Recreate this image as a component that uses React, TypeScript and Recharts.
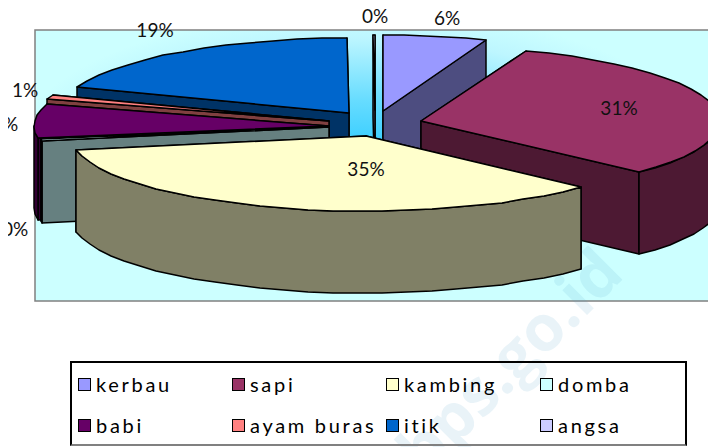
import React from 'react';
import { PieChart, Pie, Legend, Customized } from 'recharts';

const NAMES = ['kerbau', 'sapi', 'kambing', 'domba', 'babi', 'ayam buras', 'itik', 'angsa'];
const VALUES = [5.7, 31.3, 35, 0.4, 7.3, 1, 19.2, 0.1];
const PCT_LABELS = ['6%', '31%', '35%', '0%', '8%', '1%', '19%', '0%'];

const TOP = ['#9999FF', '#993366', '#FFFFCC', '#CCFFFF', '#660066', '#FF8080', '#0066CC', '#CCCCFF'];
const SIDE = ['#4D4D80', '#4D1933', '#808066', '#668080', '#330033', '#804040', '#003366', '#666680'];

// exploded apex of each slice, its radii, and where its label sits
const APEX_X = [383, 421, 366, 329, 329, 329, 349, 375];
const APEX_Y = [111, 121, 136, 127, 126, 121, 113, 110];
const RX = [295, 299, 295, 292, 295, 295, 290, 295];
const RY = [76, 75, 75, 75, 75, 75, 75, 75];
const LABEL_X = [447, 619, 366, 15, 5, 25, 155, 375];
const LABEL_Y = [17, 107, 168, 228, 123, 89, 29, 15];
const DEPTH = 82;

// painter's order, back to front
const DRAW_ORDER = [7, 0, 6, 1, 5, 4, 3, 2];

const table = NAMES.map((name, i) => ({ name, value: VALUES[i] }));

const pt = (i: number, deg: number, drop = 0) => {
  const r = (deg * Math.PI) / 180;
  return [
    Math.round(APEX_X[i] + RX[i] * Math.sin(r)),
    Math.round(APEX_Y[i] - RY[i] * Math.cos(r) + drop),
  ];
};
const poly = (p: number[][]) => 'M' + p.map((q) => q.join(',')).join('L') + 'Z';
const arc = (i: number, a: number, b: number, drop = 0) => {
  const out: number[][] = [];
  const n = Math.max(1, Math.ceil((b - a) / 5));
  for (let k = 0; k <= n; k++) out.push(pt(i, a + ((b - a) * k) / n, drop));
  return out;
};

const Slice3D = (i: number, props: any) => {
  // recharts runs the angles from 90 downward; turn them into clockwise-from-top
  const s = 90 - props.startAngle;
  const e = 90 - props.endAngle;
  const ax = APEX_X[i];
  const ay = APEX_Y[i];
  const face = (deg: number) => {
    const p = pt(i, deg);
    return poly([[ax, ay], p, [p[0], p[1] + DEPTH], [ax, ay + DEPTH]]);
  };
  const mid = (s + e) / 2;
  const faces = mid > 180 ? [e, s] : [s, e];
  const rs = Math.max(s, 90);
  const re = Math.min(e, 270);
  const common = { stroke: '#000', strokeWidth: 1.5, strokeLinejoin: 'round' as const };
  return (
    <g>
      {faces.map((d, k) => (
        <path key={k} d={face(d)} fill={SIDE[i]} {...common} />
      ))}
      {re > rs && (
        <path d={poly([...arc(i, rs, re), ...arc(i, rs, re, DEPTH).reverse()])} fill={SIDE[i]} {...common} />
      )}
      <path d={poly([[ax, ay], ...arc(i, s, e)])} fill={TOP[i]} {...common} />
    </g>
  );
};

const Backdrop = () => (
  <g>
    <defs>
      <radialGradient id="plotbg" gradientUnits="userSpaceOnUse" cx={0} cy={0} r={1}
        gradientTransform="translate(360 150) scale(345 140)">
        <stop offset="0" stopColor="#33CCFF" />
        <stop offset="0.35" stopColor="#66DCFF" />
        <stop offset="0.8" stopColor="#BDF6FF" />
        <stop offset="1" stopColor="#CCFFFF" />
      </radialGradient>
    </defs>
    <rect x={35} y={30} width={690} height={271} fill="url(#plotbg)" stroke="#808080" strokeWidth={1.5} />
    <text x={626} y={276} textAnchor="end" transform="rotate(-45 626 276)"
      fontFamily="'Open Sans', sans-serif" fontWeight={700} fontSize={64}
      fill="#4A9CC4" fillOpacity={0.12}>www.bps.go.id</text>
  </g>
);

const COL_X = [76, 230, 384, 538];
const ROW_Y = [383, 424];

const LegendBox = () => (
  <div style={{ position: 'absolute', left: 0, top: 0, width: 617, height: 85, border: '2px solid #000', borderBottomColor: '#808080', boxSizing: 'border-box' }}>
    {NAMES.map((name, i) => {
      const x = COL_X[i % 4] - 70;
      const y = ROW_Y[Math.floor(i / 4)] - 361;
      return (
        <React.Fragment key={name}>
          <div style={{ position: 'absolute', left: x, top: y - 7, width: 13, height: 13, background: TOP[i], border: '1.5px solid #000', boxSizing: 'border-box' }} />
          <div style={{ position: 'absolute', left: x + 18, top: y - 14, lineHeight: '26px', fontFamily: 'Lato, sans-serif', fontSize: 20, letterSpacing: 2.7, color: '#000', whiteSpace: 'pre' }}>{name}</div>
        </React.Fragment>
      );
    })}
  </div>
);

export default function App() {
  return (
    <div style={{ position: 'absolute', left: 0, top: 0, width: 708, height: 447, overflow: 'hidden', background: '#fff' }}>
      <PieChart width={708} height={447} margin={{ top: 0, right: 0, bottom: 0, left: 0 }}>
        <Customized component={Backdrop} />
        {DRAW_ORDER.map((i) => (
          <Pie
            key={NAMES[i]}
            data={table}
            dataKey="value"
            nameKey="name"
            cx={365}
            cy={122}
            outerRadius={100}
            startAngle={90}
            endAngle={-270}
            isAnimationActive={false}
            labelLine={false}
            label={(p: any) =>
              p.name === NAMES[i] ? (
                <text x={LABEL_X[i]} y={LABEL_Y[i]} textAnchor="middle" dominantBaseline="central"
                  fontFamily="Lato, sans-serif" fontSize={19} fill="#111">{PCT_LABELS[i]}</text>
              ) : (
                <g />
              )
            }
            shape={(p: any) => (p.name === NAMES[i] ? Slice3D(i, p) : <g />)}
          />
        ))}
        <Legend content={LegendBox} wrapperStyle={{ left: 70, top: 361, width: 617, height: 85 }} />
      </PieChart>
      <div style={{ position: 'absolute', left: 0, top: 0, width: 8, height: 300, background: '#fff' }} />
    </div>
  );
}
